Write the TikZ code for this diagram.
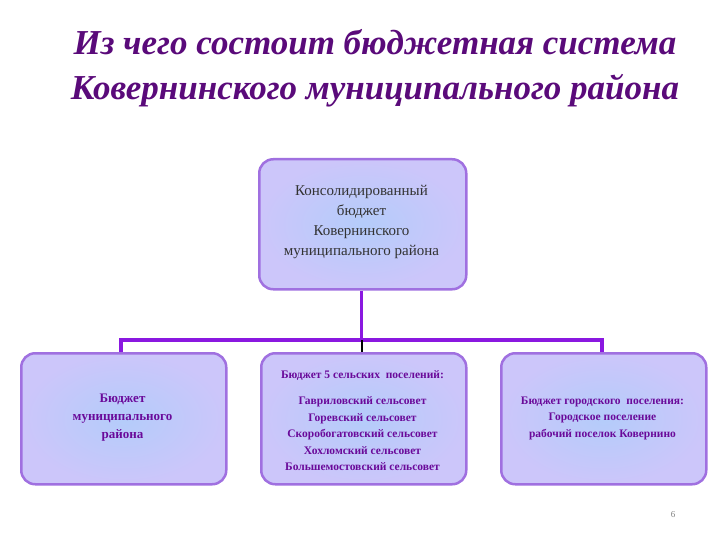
\documentclass[tikz,border=0pt]{standalone}
\usepackage{fontspec}
\setmainfont{Liberation Serif}
\begin{document}
\begin{tikzpicture}[x=1pt,y=-1pt,
  box/.style={draw=boxedge,line width=2.5pt,rounded corners=14pt,inner color=innerblue,outer color=boxfill,minimum width=205pt,minimum height=130pt,anchor=north west,align=center,text=txt},
  conn/.style={draw=linepurple,line width=3.5pt}]
\definecolor{boxedge}{HTML}{A070E0}
\definecolor{boxfill}{HTML}{CCC6FA}
\definecolor{innerblue}{HTML}{B4CCFA}
\definecolor{linepurple}{HTML}{8A18E0}
\definecolor{txt}{HTML}{6A0A9A}
\definecolor{ttl}{HTML}{5A0A7A}
\useasboundingbox (0,0) rectangle (720,540);
\node[text=ttl,font=\bfseries\itshape\fontsize{35}{45}\selectfont,align=center] (title) at (375,68) {Из чего состоит бюджетная система\\Ковернинского муниципального района};
\node[box,minimum width=207pt] (top) at (258,158) {};
\node[text=black!80,font=\fontsize{15}{20}\selectfont,align=center] (toptext) at (361.5,222) {Консолидированный\\бюджет\\Ковернинского\\муниципального района};
\node[box,minimum height=131pt] (b1) at (20,352) {};
\node[box,minimum height=131pt] (b2) at (260,352) {};
\node[box,minimum height=131pt] (b3) at (500,352) {};
\node[text=txt,font=\bfseries\fontsize{13}{18}\selectfont,align=center] (t1) at (122.5,418) {Бюджет\\муниципального\\района};
\node[text=txt,font=\bfseries\fontsize{11.5}{16.5}\selectfont,align=center] (t2a) at (362.5,376) {Бюджет 5 сельских\ \ поселений:};
\node[text=txt,font=\bfseries\fontsize{11.5}{16.5}\selectfont,align=center] (t2) at (362.5,434) {Гавриловский сельсовет\\Горевский сельсовет\\Скоробогатовский сельсовет\\Хохломский сельсовет\\Большемостовский сельсовет};
\node[text=txt,font=\bfseries\fontsize{11.5}{16.5}\selectfont,align=center] (t3) at (602.5,418) {Бюджет городского\ \ поселения:\\Городское поселение\\рабочий поселок Ковернино};
\coordinate (j) at (361.5,340);
\coordinate (l) at (121,340);
\coordinate (r) at (602,340);
\draw[conn] (j |- top.south) -- (j);
\draw[conn] (l |- b1.north) -- (l) -- (r) -- (r |- b3.north);
\draw[line width=2pt] (j) -- (j |- b2.north);
\node[text=gray,font=\fontsize{9}{10}\selectfont] (pg) at (673,515) {6};
\end{tikzpicture}
\end{document}
